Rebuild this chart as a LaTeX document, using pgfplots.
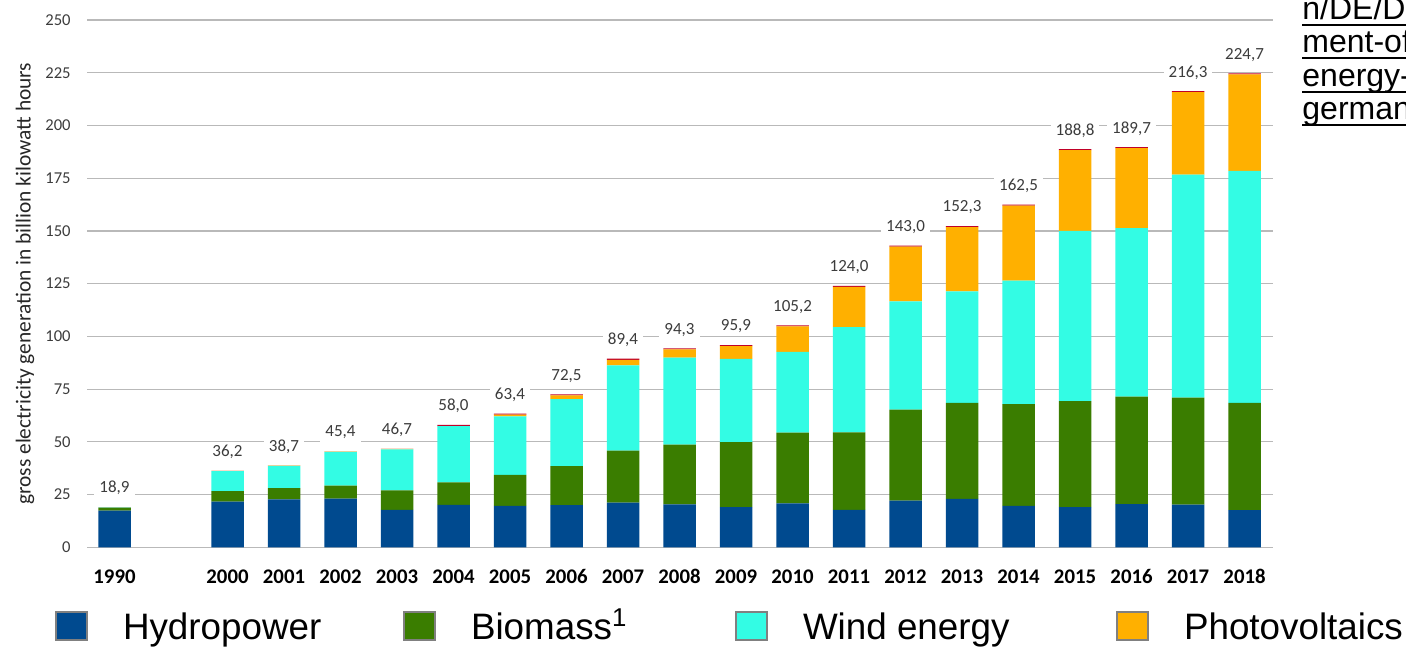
\documentclass[border=0pt]{standalone}
\usepackage{fontspec}
\setmainfont{Carlito}
\newfontfamily\arialfont{Liberation Sans}
\usepackage{pgfplots}
\pgfplotsset{compat=1.18}
\usepackage{pgfplotstable}

\definecolor{hydro}{RGB}{0,74,143}
\definecolor{bio}{RGB}{58,125,0}
\definecolor{wind}{RGB}{51,252,228}
\definecolor{pv}{RGB}{255,176,0}
\definecolor{geo}{RGB}{192,0,40}
\definecolor{gridgray}{RGB}{185,185,185}
\definecolor{labgray}{RGB}{60,60,60}
\definecolor{legborder}{RGB}{128,128,128}

\pgfplotstableread{
pos hydro bio wind pv geo total
0 17.4 1.4 0.1 0.0 0.01 18.9
2 21.7 4.9 9.5 0.1 0.01 36.2
3 22.7 5.3 10.6 0.1 0.01 38.7
4 23.1 6.2 15.9 0.2 0.01 45.4
5 17.7 9.3 19.4 0.3 0.01 46.7
6 20.1 10.7 26.6 0.1 0.5 58.0
7 19.6 14.7 27.8 0.8 0.5 63.4
8 20.0 18.5 31.8 1.7 0.5 72.5
9 21.2 24.6 40.5 2.6 0.5 89.4
10 20.4 28.3 41.2 3.9 0.5 94.3
11 19.0 30.9 39.4 6.1 0.5 95.9
12 20.8 33.6 38.3 12.0 0.5 105.2
13 17.7 36.8 49.9 19.1 0.5 124.0
14 22.1 43.2 51.3 25.9 0.5 143.0
15 23.0 45.5 52.8 30.5 0.5 152.3
16 19.6 48.3 58.5 35.6 0.5 162.5
17 19.0 50.3 80.7 38.3 0.5 188.8
18 20.5 50.9 79.9 37.9 0.5 189.7
19 20.2 50.8 105.7 39.1 0.5 216.3
20 17.6 50.9 110.0 45.7 0.5 224.7
}\datatable

\newcommand\ul[1]{\setbox0\hbox{#1}\rlap{\rule[-3pt]{\wd0}{1.2pt}}\box0}

\begin{document}
\begin{tikzpicture}
\useasboundingbox (0,0) rectangle (703pt,324pt);
\begin{axis}[
  at={(43.5pt,50.35pt)}, anchor=south west,
  scale only axis, width=593pt, height=263.65pt,
  ybar stacked, bar width=16.25pt,
  xmin=-0.487, xmax=20.504,
  ymin=0, ymax=250,
  ytick={0,25,...,250},
  xtick={0,2,3,...,20},
  xticklabels={1990,2000,2001,2002,2003,2004,2005,2006,2007,2008,2009,2010,2011,2012,2013,2014,2015,2016,2017,2018},
  axis line style={draw=none},
  major tick length=0pt,
  ymajorgrids, grid style={gridgray, line width=0.6pt},
  /pgf/number format/assume math mode=true,
  yticklabel style={font=\fontsize{8.3}{10}\selectfont, text=labgray, inner sep=0pt, anchor=east, xshift=-8pt},
  xticklabel style={font=\bfseries\fontsize{10.4}{12}\selectfont, inner sep=0pt, anchor=north, yshift=-11pt, text height=6.8pt, text depth=0pt},
  ylabel={gross electricity generation in billion kilowatt hours},
  ylabel style={at={(axis description cs:-0.0523,0.5)}, anchor=center, font=\fontsize{10.7}{12}\selectfont, text=black!85},
  legend columns=4,
  legend style={draw=none, fill=none, inner sep=0pt, outer sep=0pt,
    at={(axis description cs:0,0)}, anchor=west, xshift=-16pt, yshift=-39.35pt,
    font=\arialfont\fontsize{18.4}{22}\selectfont,
    nodes={inner sep=0pt, text depth=0pt, text height=13.2pt},
    cells={anchor=west}},
]
\addplot[fill=hydro, draw=none, forget plot] table[x=pos, y=hydro]{\datatable};
\addplot[fill=bio, draw=none, forget plot] table[x=pos, y=bio]{\datatable};
\addplot[fill=wind, draw=none, forget plot] table[x=pos, y=wind]{\datatable};
\addplot[fill=pv, draw=none, forget plot] table[x=pos, y=pv]{\datatable};
\addplot[fill=geo, draw=none, forget plot,
  point meta=explicit,
  nodes near coords={\pgfmathprintnumber[fixed,fixed zerofill,precision=1,use comma]{\pgfplotspointmeta}},
  every node near coord/.append style={anchor=base, yshift=7.3pt, fill=white, inner xsep=2.5pt, inner ysep=1.5pt, font=\fontsize{8.5}{10}\selectfont, text=labgray}
] table[x=pos, y=geo, meta=total]{\datatable};

\addlegendimage{legend image code/.code={\draw[draw=legborder, line width=1pt, fill=hydro] (0pt,-7pt) rectangle (15.5pt,7pt);}}
\addlegendentry{\hspace*{17.5pt}\makebox[140pt][l]{Hydropower}}
\addlegendimage{legend image code/.code={\draw[draw=legborder, line width=1pt, fill=bio] (0pt,-7pt) rectangle (15.5pt,7pt);}}
\addlegendentry{\hspace*{17.5pt}\makebox[132pt][l]{Biomass\textsuperscript{1}}}
\addlegendimage{legend image code/.code={\draw[draw=legborder, line width=1pt, fill=wind] (0pt,-7pt) rectangle (15.5pt,7pt);}}
\addlegendentry{\hspace*{17.5pt}\makebox[156.5pt][l]{Wind energy}}
\addlegendimage{legend image code/.code={\draw[draw=legborder, line width=1pt, fill=pv] (0pt,-7pt) rectangle (15.5pt,7pt);}}
\addlegendentry{\hspace*{17.5pt}Photovoltaics}
\end{axis}
\begin{scope}[every node/.style={anchor=base west, inner sep=0pt, font=\arialfont\fontsize{16}{16.5}\selectfont}]
\node at (651pt,314pt) {\ul{n/DE/Do}};
\node at (651pt,297.5pt) {\ul{ment-of-}};
\node at (651pt,280.5pt) {\ul{energy-i}};
\node at (651pt,264pt) {\ul{germany}};
\end{scope}
\end{tikzpicture}
\end{document}
